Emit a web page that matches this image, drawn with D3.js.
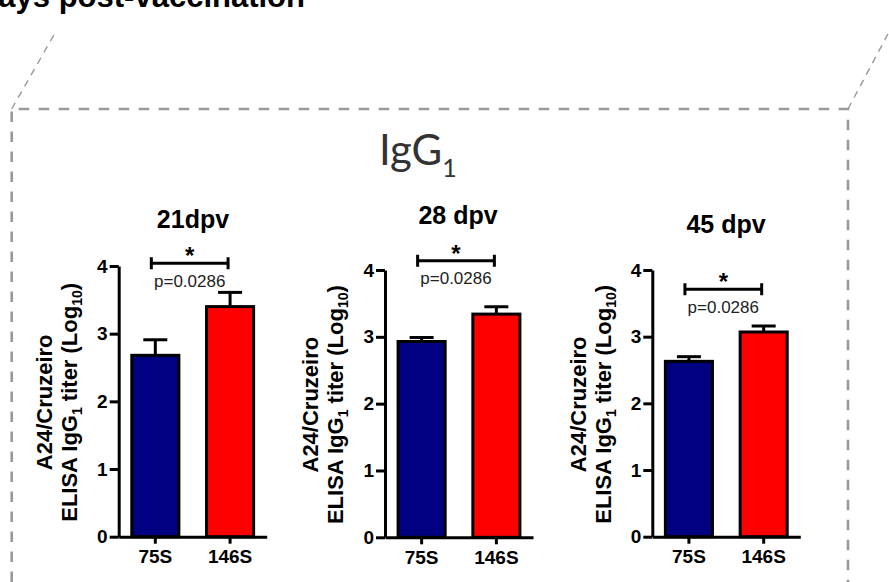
<!DOCTYPE html>
<html>
<head>
<meta charset="utf-8">
<script src="https://cdn.jsdelivr.net/npm/d3@7"></script>
<style>
    body { margin: 0; background: #fff; }
    svg { display: block; }
    .axis path, .axis line { stroke: #000; stroke-width: 3; }
    .axis text { font-family: Arial, "Liberation Sans", sans-serif; font-weight: bold; font-size: 19px; fill: #000; }
</style>
</head>
<body>
<svg id="chart" width="889" height="582"></svg>
<script>
// values
const groups = ["75S", "146S"];
const panelTitles = ["21dpv", "28 dpv", "45 dpv"];
const mean75S = [2.68, 2.93, 2.63];
const mean146S = [3.40, 3.34, 3.07];
const sem75S = [0.23, 0.06, 0.07];
const sem146S = [0.21, 0.11, 0.09];
const pValues = ["p=0.0286", "p=0.0286", "p=0.0286"];
const yTicks = [0, 1, 2, 3, 4];

// layout of each small plot (pixels), bracket level in axis units
const panels = [
    {left: 118.7, top: 266, bottom: 536.7, titleX: 193, titleY: 228, bracket: 4.04},
    {left: 385, top: 270, bottom: 537.3, titleX: 458, titleY: 224, bracket: 4.14},
    {left: 652.3, top: 270, bottom: 536.7, titleX: 726, titleY: 233, bracket: 3.71}
];
const plotWidth = 148;
const colors = {"75S": "#000080", "146S": "#ff0000"};
const font = "Arial, 'Liberation Sans', sans-serif";

let svg = d3.select("#chart");

// cut off heading at the very top
svg.append("text")
    .attr("x", 305)
    .attr("y", 7)
    .attr("text-anchor", "end")
    .style("font-family", font)
    .style("font-weight", "bold")
    .style("font-size", "31px")
    .text("Days post-vaccination");

// dashed frame
let frame = svg.append("g").attr("fill", "none").attr("stroke", "#999");
frame.append("path")
    .attr("d", "M11.7,582 L11.7,109 L848,109 L848,582")
    .attr("stroke-width", 2.6)
    .attr("stroke-dasharray", "10.5,9.5");
frame.append("path")
    .attr("d", "M11.7,109 L55,33 M848,109 L889,32")
    .attr("stroke-width", 1.4)
    .attr("stroke-dasharray", "7,6");

// IgG1 header
let head = svg.append("text")
    .attr("x", 379)
    .attr("y", 165)
    .style("font-family", "Lato, 'Open Sans', sans-serif")
    .style("font-size", "42px")
    .style("fill", "#333");
head.append("tspan").text("IgG");
head.append("tspan").attr("dy", 12).style("font-size", "25px").text("1");

panels.forEach(function(p, i) {
    let g = svg.append("g");

    let x = d3.scaleBand()
        .domain(groups)
        .range([p.left, p.left + plotWidth])
        .paddingInner(0.33)
        .paddingOuter(0.155);

    let y = d3.scaleLinear()
        .domain([0, 4])
        .range([p.bottom, p.top]);

    let rows = [
        {group: groups[0], mean: mean75S[i], sem: sem75S[i]},
        {group: groups[1], mean: mean146S[i], sem: sem146S[i]}
    ];

    // error bars (upper only)
    g.selectAll("line.err")
        .data(rows)
        .enter()
        .append("line")
        .attr("class", "err")
        .attr("x1", d => x(d.group) + x.bandwidth() / 2)
        .attr("x2", d => x(d.group) + x.bandwidth() / 2)
        .attr("y1", d => y(d.mean))
        .attr("y2", d => y(d.mean + d.sem))
        .attr("stroke", "#000")
        .attr("stroke-width", 3);
    g.selectAll("line.cap")
        .data(rows)
        .enter()
        .append("line")
        .attr("class", "cap")
        .attr("x1", d => x(d.group) + x.bandwidth() / 2 - 12)
        .attr("x2", d => x(d.group) + x.bandwidth() / 2 + 12)
        .attr("y1", d => y(d.mean + d.sem))
        .attr("y2", d => y(d.mean + d.sem))
        .attr("stroke", "#000")
        .attr("stroke-width", 3);

    g.selectAll("rect.bar")
        .data(rows)
        .enter()
        .append("rect")
        .attr("class", "bar")
        .attr("x", d => x(d.group) + 1.5)
        .attr("y", d => y(d.mean))
        .attr("width", x.bandwidth() - 3)
        .attr("height", d => y(0) - y(d.mean))
        .attr("fill", d => colors[d.group])
        .attr("stroke", "#000")
        .attr("stroke-width", 3);

    g.append("g")
        .attr("class", "axis")
        .attr("transform", "translate(" + p.left + ",0)")
        .call(d3.axisLeft(y).tickValues(yTicks).tickFormat(d3.format("d")).tickSize(9).tickSizeOuter(0).tickPadding(2))
        .attr("font-family", null).attr("font-size", null);

    g.append("g")
        .attr("class", "axis")
        .attr("transform", "translate(0," + p.bottom + ")")
        .call(d3.axisBottom(x).tickSize(7).tickSizeOuter(0).tickPadding(6))
        .attr("font-family", null).attr("font-size", null);

    // title
    g.append("text")
        .attr("x", p.titleX)
        .attr("y", p.titleY)
        .attr("text-anchor", "middle")
        .style("font-family", font)
        .style("font-weight", "bold")
        .style("font-size", "25px")
        .text(panelTitles[i]);

    // significance bracket
    let bx1 = x(groups[0]) + x.bandwidth() / 2 - 4;
    let bx2 = x(groups[1]) + x.bandwidth() / 2 - 2;
    let by = y(p.bracket);
    g.append("path")
        .attr("d", "M" + bx1 + "," + (by - 6) + "V" + (by + 6) + "M" + bx1 + "," + by + "H" + bx2 +
            "M" + bx2 + "," + (by - 6) + "V" + (by + 6))
        .attr("fill", "none")
        .attr("stroke", "#000")
        .attr("stroke-width", 3);
    g.append("text")
        .attr("x", (bx1 + bx2) / 2)
        .attr("y", by + 1)
        .attr("text-anchor", "middle")
        .style("font-family", font)
        .style("font-weight", "bold")
        .style("font-size", "24px")
        .text("*");
    g.append("text")
        .attr("x", (bx1 + bx2) / 2)
        .attr("y", by + 23.5)
        .attr("text-anchor", "middle")
        .style("font-family", font)
        .style("font-size", "17px")
        .style("fill", "#222")
        .text(pValues[i]);

    // y label, two lines rotated
    let lab = g.append("g")
        .attr("transform", "translate(" + (p.left - 41.7) + "," + ((p.top + p.bottom) / 2 + 1) + ") rotate(-90)")
        .style("font-family", font)
        .style("font-weight", "bold")
        .style("font-size", "22px")
        .attr("text-anchor", "middle");
    lab.append("text").attr("y", -25).text("A24/Cruzeiro");
    let l2 = lab.append("text").attr("y", 0);
    l2.append("tspan").text("ELISA IgG");
    l2.append("tspan").attr("dy", 5).style("font-size", "14px").text("1");
    l2.append("tspan").attr("dy", -5).text(" titer (Log");
    l2.append("tspan").attr("dy", 5).style("font-size", "14px").text("10");
    l2.append("tspan").attr("dy", -5).text(")");
});
</script>
</body>
</html>
